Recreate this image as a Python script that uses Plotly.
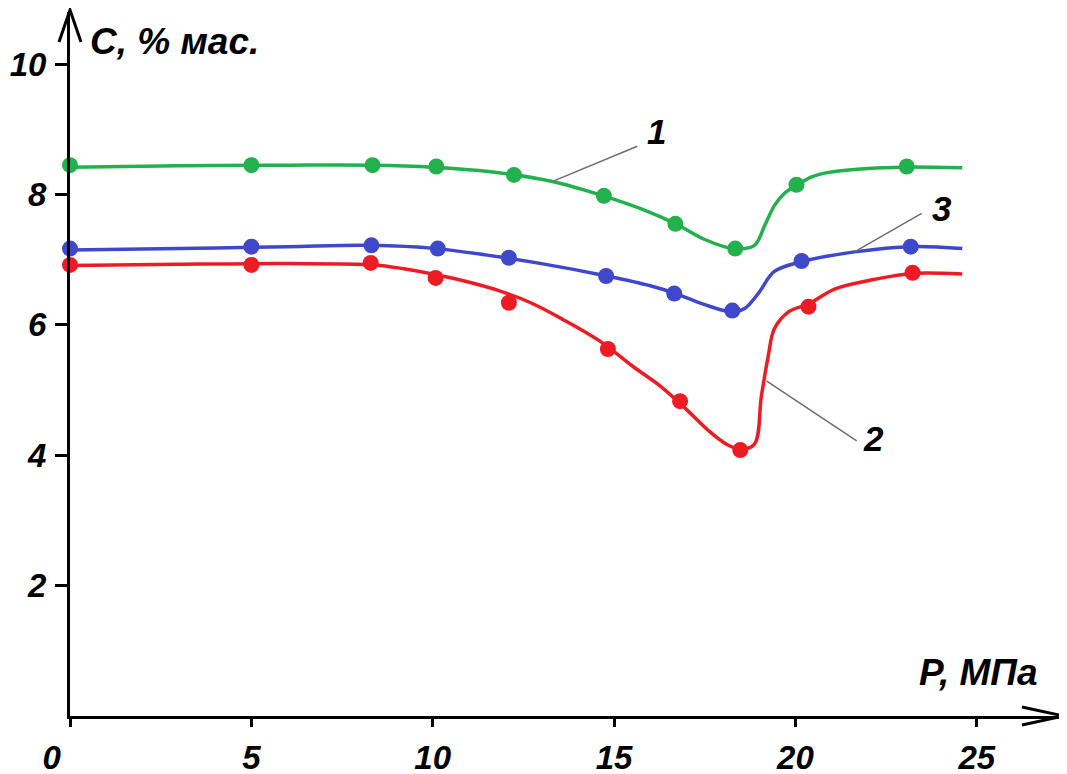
import plotly.graph_objects as go

# ---- data ----
x_ticks = [0, 5, 10, 15, 20, 25]
x_ticktext = ["0\u00a0\u00a0\u00a0\u00a0", "5", "10", "15", "20", "25"]
y_ticks = [2, 4, 6, 8, 10]

# measured points (markers)
p1_x = [0.0, 5.0, 8.34, 10.1, 12.24, 14.72, 16.69, 18.34, 20.03, 23.07]
p1_y = [8.45, 8.45, 8.45, 8.43, 8.30, 7.98, 7.55, 7.17, 8.15, 8.43]

p3_x = [0.0, 5.0, 8.31, 10.14, 12.1, 14.78, 16.66, 18.26, 20.17, 23.18]
p3_y = [7.17, 7.20, 7.22, 7.17, 7.03, 6.75, 6.48, 6.22, 6.98, 7.20]

p2_x = [0.0, 5.0, 8.29, 10.08, 12.1, 14.83, 16.82, 18.48, 20.36, 23.23]
p2_y = [6.92, 6.92, 6.95, 6.72, 6.34, 5.63, 4.83, 4.08, 6.28, 6.80]

# fitted curves
c1_x = [0, 3, 6, 8.3, 10, 11.6, 13.3, 14.7, 15.75, 16.7, 17.5, 18.3, 18.87, 19.15, 19.42, 19.7, 20.03, 20.45, 20.91, 22.0, 23.0, 24.6]
c1_y = [8.42, 8.44, 8.45, 8.45, 8.42, 8.35, 8.20, 7.98, 7.78, 7.55, 7.31, 7.17, 7.22, 7.52, 7.83, 8.02, 8.14, 8.27, 8.34, 8.40, 8.42, 8.41]

c3_x = [0, 3, 6, 8.3, 10.1, 11.5, 13.0, 14.8, 16.0, 16.7, 17.5, 18.25, 18.6, 19.0, 19.42, 20.17, 21.63, 23.2, 24.6]
c3_y = [7.15, 7.17, 7.20, 7.22, 7.17, 7.07, 6.94, 6.75, 6.60, 6.48, 6.31, 6.20, 6.25, 6.50, 6.82, 6.97, 7.12, 7.20, 7.17]

c2_x = [0, 3, 6, 8.4, 9.2, 10.0, 10.9, 11.8, 12.7, 13.6, 14.64, 15.55, 16.3, 17.0, 17.6, 18.1, 18.5, 18.87, 19.06, 19.25, 19.42, 19.81, 20.36, 21.08, 22.2, 23.2, 24.6]
c2_y = [6.91, 6.93, 6.94, 6.92, 6.86, 6.78, 6.67, 6.53, 6.34, 6.08, 5.74, 5.35, 5.05, 4.70, 4.38, 4.17, 4.09, 4.17, 4.90, 5.52, 5.94, 6.20, 6.32, 6.55, 6.70, 6.79, 6.78]

GREEN = "#22b14c"
BLUE = "#3f48cc"
RED = "#ed1c24"

FONT = dict(family="Liberation Sans, Arial", size=35, color="black", weight="bold", style="italic")
TITLEFONT = dict(family="Liberation Sans, Arial", size=37, color="black", weight="bold", style="italic")
TICKFONT = dict(family="Liberation Sans, Arial", size=33, color="black", weight="bold", style="italic")

fig = go.Figure()
for cx, cy, px, py, col in [(c1_x, c1_y, p1_x, p1_y, GREEN),
                            (c3_x, c3_y, p3_x, p3_y, BLUE),
                            (c2_x, c2_y, p2_x, p2_y, RED)]:
    fig.add_trace(go.Scatter(x=cx, y=cy, mode="lines",
                             line=dict(color=col, width=3.5, shape="spline", smoothing=1.0),
                             cliponaxis=False, showlegend=False, hoverinfo="skip"))
    fig.add_trace(go.Scatter(x=px, y=py, mode="markers",
                             marker=dict(color=col, size=16),
                             cliponaxis=False, showlegend=False))

# leader lines to curve labels
leaders = [((13.34, 8.21), (15.64, 8.74)),
           ((21.63, 7.12), (23.48, 7.71)),
           ((19.2, 5.14), (21.69, 4.22))]
for (xa, ya), (xb, yb) in leaders:
    fig.add_shape(type="line", x0=xa, y0=ya, x1=xb, y1=yb, xref="x", yref="y",
                  line=dict(color="#6e6e6e", width=1.5))

labels = [("1", 16.16, 8.97), ("3", 24.03, 7.78), ("2", 22.15, 4.25)]
for t, lx, ly in labels:
    fig.add_annotation(x=lx, y=ly, xref="x", yref="y", text=t, showarrow=False,
                       font=FONT, xanchor="center", yanchor="middle")

# axis titles
fig.add_annotation(x=0.5, y=10.34, xref="x", yref="y", text="C, % мас.", showarrow=False,
                   font=TITLEFONT, xanchor="left", yanchor="middle")
fig.add_annotation(x=23.35, y=0.66, xref="x", yref="y", text="P, МПа", showarrow=False,
                   font=TITLEFONT, xanchor="left", yanchor="middle")

# arrow heads
fig.add_shape(type="path", xref="paper", yref="paper", xsizemode="pixel", ysizemode="pixel",
              xanchor=1, yanchor=0, path="M -40,9 L 2,0 L -40,-9",
              line=dict(color="black", width=3))
fig.add_shape(type="path", xref="paper", yref="paper", xsizemode="pixel", ysizemode="pixel",
              xanchor=0, yanchor=1, path="M -11,-30 L 0,2 L 11,-30",
              line=dict(color="black", width=3))

fig.update_xaxes(range=[0, 27.35], tickvals=x_ticks, ticktext=x_ticktext,
                 showgrid=False, zeroline=False, showline=True, linecolor="black", linewidth=3,
                 ticks="outside", ticklen=8, tickwidth=3, tickcolor="black",
                 tickfont=TICKFONT, ticklabelstandoff=2, automargin=False)
fig.update_yaxes(range=[0, 10.8], tickvals=y_ticks, ticktext=[str(v) for v in y_ticks],
                 showgrid=False, zeroline=False, showline=True, linecolor="black", linewidth=3,
                 ticks="outside", ticklen=12, tickwidth=3, tickcolor="black",
                 tickfont=TICKFONT, ticklabelstandoff=2, automargin=False)

# page body has an 8px margin, so the plot box is shifted by 8px
fig.update_layout(width=1067, height=774, plot_bgcolor="white", paper_bgcolor="white",
                  margin=dict(l=62, r=13, t=4, b=66), showlegend=False)

fig.write_html("out.html")
